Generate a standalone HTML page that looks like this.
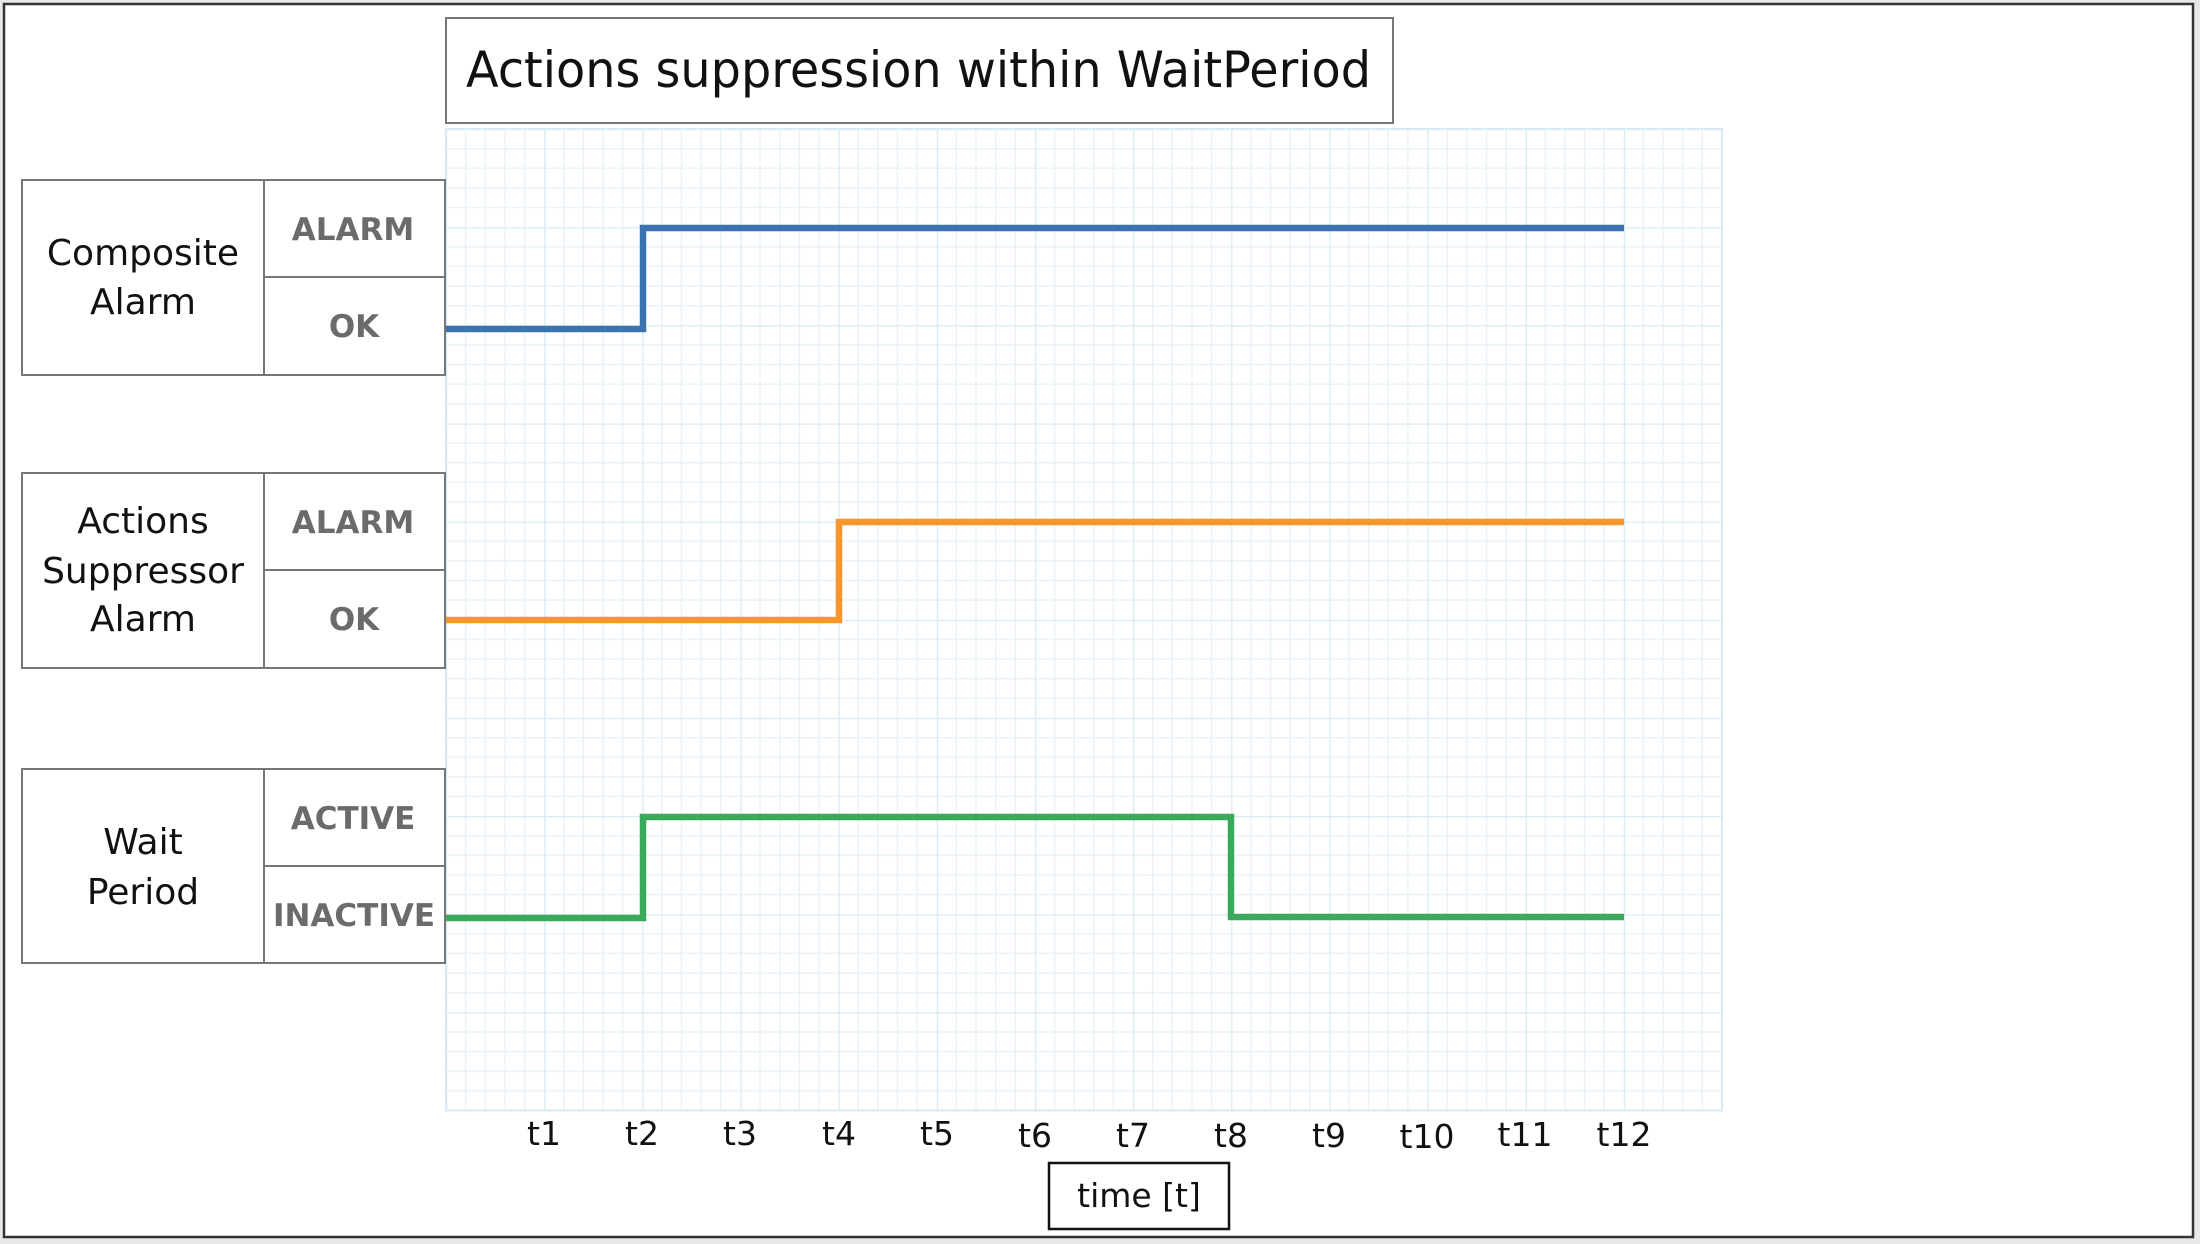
<!DOCTYPE html>
<html><head><meta charset="utf-8"><style>
html,body{margin:0;padding:0;background:#e8e8e8;}
svg{display:block;}
text{font-family:"DejaVu Sans","Liberation Sans",sans-serif;}
</style></head><body>
<svg width="2200" height="1244" viewBox="0 0 2200 1244" xmlns="http://www.w3.org/2000/svg">
<defs>
<pattern id="g" x="446" y="129" width="98.15" height="98.15" patternUnits="userSpaceOnUse">
<g stroke="#e9f3f8" stroke-width="1.5">
<line x1="19.63" y1="0" x2="19.63" y2="98.15"/><line x1="39.26" y1="0" x2="39.26" y2="98.15"/>
<line x1="58.89" y1="0" x2="58.89" y2="98.15"/><line x1="78.52" y1="0" x2="78.52" y2="98.15"/>
<line y1="19.63" x1="0" y2="19.63" x2="98.15"/><line y1="39.26" x1="0" y2="39.26" x2="98.15"/>
<line y1="58.89" x1="0" y2="58.89" x2="98.15"/><line y1="78.52" x1="0" y2="78.52" x2="98.15"/>
</g>
<g stroke="#d8eaf3" stroke-width="2.5">
<line x1="0" y1="0" x2="0" y2="98.15"/><line x1="0" y1="0" x2="98.15" y2="0"/>
</g>
</pattern>
</defs>
<rect x="0" y="0" width="2200" height="1244" fill="#e8e8e8"/>
<rect x="4" y="4" width="2189" height="1233" fill="#fff" stroke="#333" stroke-width="2.5"/>
<rect x="446" y="129" width="1276" height="981.5" fill="url(#g)"/>
<rect x="446" y="129" width="1276" height="981.5" fill="none" stroke="#d8eaf3" stroke-width="2"/>
<rect x="446" y="18" width="947" height="105" fill="#fff" stroke="#777" stroke-width="2"/>
<text x="466" y="87" font-size="50" textLength="905" lengthAdjust="spacingAndGlyphs" fill="#111">Actions suppression within WaitPeriod</text>
<g fill="#fff" stroke="#777" stroke-width="2">
<rect x="22" y="180" width="423" height="195"/><line x1="264" y1="180" x2="264" y2="375"/><line x1="264" y1="277" x2="445" y2="277"/>
<rect x="22" y="473" width="423" height="195"/><line x1="264" y1="473" x2="264" y2="668"/><line x1="264" y1="570" x2="445" y2="570"/>
<rect x="22" y="769" width="423" height="194"/><line x1="264" y1="769" x2="264" y2="963"/><line x1="264" y1="866" x2="445" y2="866"/>
</g>
<g font-size="36" fill="#111" text-anchor="middle">
<text x="143" y="265">Composite</text><text x="143" y="314">Alarm</text>
<text x="143" y="533">Actions</text><text x="143" y="583">Suppressor</text><text x="143" y="631">Alarm</text>
<text x="143" y="854">Wait</text><text x="143" y="904">Period</text>
</g>
<g font-size="31" font-weight="bold" fill="#6b6b6b" text-anchor="middle">
<text x="353" y="240">ALARM</text><text x="354" y="337">OK</text>
<text x="353" y="533">ALARM</text><text x="354" y="630">OK</text>
<text x="353" y="829">ACTIVE</text><text x="354" y="926">INACTIVE</text>
</g>
<g fill="none" stroke-width="6.5" stroke-linejoin="miter">
<polyline stroke="#3a73b0" points="446,329 643,329 643,228 1624,228"/>
<polyline stroke="#f5962f" points="446,620 839,620 839,522 1624,522"/>
<polyline stroke="#3aaa5a" points="446,918 643,918 643,817 1231,817 1231,917 1624,917"/>
</g>
<g font-size="33" fill="#111" text-anchor="middle">
<text x="544" y="1145">t1</text><text x="642" y="1145">t2</text><text x="740" y="1145">t3</text>
<text x="839" y="1145">t4</text><text x="937" y="1145">t5</text><text x="1035" y="1147">t6</text>
<text x="1133" y="1147">t7</text><text x="1231" y="1147">t8</text><text x="1329" y="1147">t9</text>
<text x="1427" y="1148">t10</text><text x="1525" y="1146">t11</text><text x="1624" y="1146">t12</text>
</g>
<rect x="1049" y="1163" width="180" height="66" fill="#fff" stroke="#111" stroke-width="2.5"/>
<text x="1139" y="1207" font-size="33" text-anchor="middle" fill="#111">time [t]</text>
</svg>
</body></html>
